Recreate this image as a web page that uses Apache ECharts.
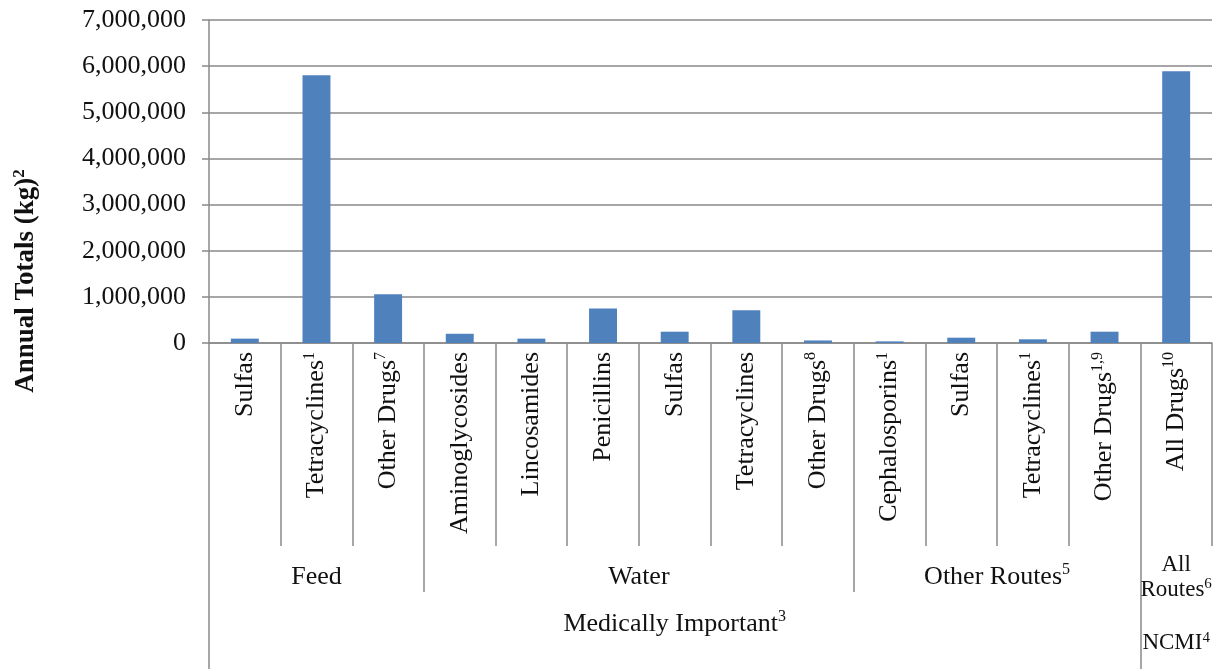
<!DOCTYPE html>
<html>
<head>
<meta charset="utf-8">
<script src="https://cdn.jsdelivr.net/npm/echarts@6/dist/echarts.min.js"></script>
<style>html,body{margin:0;padding:0;background:#fff}#c{width:1214px;height:669px}</style>
</head>
<body>
<div id="c"></div>
<script>
// ---- data ----
const categories = ['Sulfas','Tetracyclines','Other Drugs','Aminoglycosides','Lincosamides','Penicillins','Sulfas','Tetracyclines','Other Drugs','Cephalosporins','Sulfas','Tetracyclines','Other Drugs','All Drugs'];
const categorySups = ['','1','7','','','','','','8','1','','1','1,9','10'];
const values = [95000, 5800000, 1055000, 200000, 95000, 745000, 245000, 710000, 55000, 35000, 115000, 80000, 245000, 5890000];

const routeLabels = ['Feed', 'Water', 'Other Routes', 'All\nRoutes'];
const routeSups = ['', '', '5', '6'];
const routeSpans = [[0, 3], [3, 9], [9, 13], [13, 14]];

const classLabels = ['Medically Important', 'NCMI'];
const classSups = ['3', '4'];
const classSpans = [[0, 13], [13, 14]];

const yMin = 0, yMax = 7000000, yInterval = 1000000;
const yTitle = 'Annual Totals (kg)';
const yTitleSup = '2';

// ---- styles ----
const FONT = "'Liberation Serif', 'Times New Roman', serif";
const GRAY = '#898989';
const TXT = '#111';

function sup(text, base, s) {
  return s ? '{' + base + '|' + text + '}{' + (base + 's') + '|' + s + '}' : '{' + base + '|' + text + '}';
}
function findIdx(centers, v) {
  for (let i = 0; i < centers.length; i++) if (Math.abs(centers[i] - v) < 1e-6) return i;
  return -1;
}
const routeCenters = routeSpans.map(s => (s[0] + s[1]) / 2);
const routeBounds = [routeSpans[0][1], routeSpans[1][1]];
const classCenters = classSpans.map(s => (s[0] + s[1]) / 2);
const classBounds = [classSpans[0][0], classSpans[1][0]];
const nCat = categories.length;

const rich = {
  a: {fontSize: 26, fontFamily: FONT, color: TXT, lineHeight: 30},
  as: {fontSize: 16, fontFamily: FONT, color: TXT, lineHeight: 16, verticalAlign: 'top'},
  b: {fontSize: 23, fontFamily: FONT, color: TXT, lineHeight: 25},
  bs: {fontSize: 15, fontFamily: FONT, color: TXT, lineHeight: 14, verticalAlign: 'top'}
};

const chart = echarts.init(document.getElementById('c'), null, {renderer: 'canvas'});
chart.setOption({
  animation: false,
  backgroundColor: '#fff',
  grid: {left: 209, right: 2, top: 20, bottom: 326, containLabel: false, outerBoundsMode: 'none'},
  xAxis: [
    {
      type: 'category',
      data: categories,
      position: 'bottom',
      axisLine: {show: true, lineStyle: {color: GRAY, width: 1.5}},
      axisTick: {show: true, interval: 0, length: 203, lineStyle: {color: GRAY, width: 1.5}},
      axisLabel: {
        interval: 0, rotate: 90, margin: 9,
        formatter: (v, i) => sup(v, 'a', categorySups[i]),
        rich: rich
      },
      splitLine: {show: false}
    },
    {
      type: 'value', min: 0, max: nCat, position: 'bottom', offset: 0,
      axisLine: {show: false},
      splitLine: {show: false},
      axisTick: {show: true, customValues: routeBounds, length: 249, lineStyle: {color: GRAY, width: 1.5}},
      axisLabel: {
        customValues: routeCenters, margin: 234, verticalAlign: 'middle',
        formatter: v => {
          const i = findIdx(routeCenters, v);
          if (i < 0) return '';
          if (routeLabels[i].indexOf('\n') >= 0) {
            const parts = routeLabels[i].split('\n');
            return '{b|' + parts[0] + '}\n' + sup(parts[1], 'b', routeSups[i]);
          }
          return sup(routeLabels[i], 'a', routeSups[i]);
        },
        rich: rich
      }
    },
    {
      type: 'value', min: 0, max: nCat, position: 'bottom', offset: 0,
      axisLine: {show: false},
      splitLine: {show: false},
      axisTick: {show: true, customValues: classBounds, length: 326, lineStyle: {color: GRAY, width: 1.5}},
      axisLabel: {
        customValues: [classCenters[0]], margin: 281, verticalAlign: 'middle',
        formatter: v => sup(classLabels[0], 'a', classSups[0]),
        rich: rich
      }
    },
    {
      type: 'value', min: 0, max: nCat, position: 'bottom', offset: 0,
      axisLine: {show: false},
      splitLine: {show: false},
      axisTick: {show: false},
      axisLabel: {
        customValues: [classCenters[1]], margin: 300, verticalAlign: 'middle',
        formatter: v => sup(classLabels[1], 'b', classSups[1]),
        rich: rich
      }
    }
  ],
  yAxis: {
    type: 'value', min: yMin, max: yMax, interval: yInterval,
    axisLine: {show: true, lineStyle: {color: GRAY, width: 1.5}},
    axisTick: {show: true, length: 7, lineStyle: {color: GRAY, width: 1.5}},
    splitLine: {show: true, lineStyle: {color: GRAY, width: 1.5}},
    axisLabel: {
      margin: 23, fontSize: 26, fontFamily: FONT, color: TXT,
      formatter: v => v.toLocaleString('en-US')
    }
  },
  series: [{
    type: 'bar',
    xAxisIndex: 0,
    data: values,
    barWidth: '39%',
    itemStyle: {color: '#4f81bd'}
  }],
  graphic: [{
    type: 'text',
    x: 26, y: 281,
    rotation: Math.PI / 2,
    style: {
      text: '{t|' + yTitle + '}{ts|' + yTitleSup + '}',
      align: 'center', verticalAlign: 'middle',
      rich: {
        t: {fontSize: 27, fontWeight: 'bold', fontFamily: FONT, fill: TXT, lineHeight: 30},
        ts: {fontSize: 17, fontWeight: 'bold', fontFamily: FONT, fill: TXT, lineHeight: 17, verticalAlign: 'top'}
      }
    }
  }]
});
</script>
</body>
</html>
